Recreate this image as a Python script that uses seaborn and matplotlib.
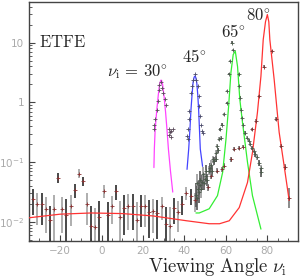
import numpy as np
import pandas as pd
import matplotlib
matplotlib.use("Agg")
import matplotlib.pyplot as plt
import seaborn as sns
from matplotlib.ticker import FixedLocator, FixedFormatter, MultipleLocator, NullFormatter

# ---- model curves: viewing angle (deg) and log10(intensity) ----
m30_x = [25.3, 25.5, 25.9, 26.7, 27.4, 28.0, 28.6, 29.0, 29.5, 30.2, 30.9, 31.6, 32.3, 33.3, 34.4]
m30_log = [-1.09, -0.78, -0.45, -0.12, 0.12, 0.30, 0.37, 0.37, 0.30, 0.10, -0.15, -0.45, -0.78, -1.15, -1.50]

m45_x = [41.3, 42.1, 42.7, 43.2, 43.7, 44.2, 44.7, 45.1, 45.5, 46.0, 46.5, 46.9, 47.3, 47.7, 48.8]
m45_log = [-1.12, -0.78, -0.45, -0.12, 0.12, 0.33, 0.42, 0.44, 0.42, 0.33, 0.12, -0.12, -0.45, -0.78, -1.07]

m65_x = [45.6, 47.2, 52.0, 56.0, 58.5, 60.1, 61.4, 62.5, 63.6, 64.6, 65.7, 66.8, 68.1, 70.5, 72.9, 77.0]
m65_log = [-1.85, -1.85, -1.78, -1.56, -1.17, -0.62, -0.06, 0.50, 0.80, 0.86, 0.60, 0.05, -0.34, -1.00, -1.56, -2.12]

m80_x = [-35, -20, -5, 10, 25, 41, 52, 57, 61.7, 66.5, 70.5, 72.9, 75.3, 77.0, 78.1, 79.2,
         80.1, 80.8, 81.3, 83.4, 85.8, 88.2, 90.3, 90.6]
m80_log = [-1.93, -1.87, -1.85, -1.86, -1.90, -1.98, -2.03, -2.03, -1.98, -1.76, -1.34, -0.84, -0.17, 0.44, 1.05, 1.35,
           1.47, 1.35, 1.05, 0.38, -0.50, -1.06, -1.56, -1.64]

# ---- measured points ----
# diffuse background (absolute errors)
bg_x = [-33, -31, -29, -27, -25, -23, -21, -19, -17, -15, -13, -11, -9, -7, -5, -3, -1, 1, 3, 5,
        7, 9, 11, 13, 15, 17, 19, 21, 23, 25, 27, 29, 31, 33, 35, 37, 39, 41, 43, 45]
bg_log = [-1.62, -1.70, -1.70, -1.78, -1.97, -1.78, -1.26, -1.78, -1.88, -1.73, -1.47, -1.19, -1.32, -1.70,
          -2.06, -2.08, -1.92, -1.48, -1.89, -1.74, -1.49, -1.92, -1.77, -1.74, -1.74, -1.96, -1.74, -1.74,
          -1.84, -1.81, -1.85, -1.73, -2.04, -2.06, -1.76, -1.83, -1.70, -1.51, -1.56, -1.64]
bg_err = [0.011, 0.011, 0.011, 0.010, 0.008, 0.012, 0.010, 0.010, 0.011, 0.010, 0.009, 0.011, 0.008, 0.011,
          0.010, 0.009, 0.010, 0.008, 0.009, 0.009, 0.009, 0.010, 0.011, 0.011, 0.011, 0.011, 0.010, 0.010,
          0.009, 0.009, 0.009, 0.008, 0.009, 0.009, 0.008, 0.008, 0.007, 0.008, 0.008, 0.008]

p30_x = [28.75, 27.95, 29.23, 27.63, 29.88, 30.84, 27.15, 31.16, 26.67, 26.02, 25.54, 25.38,
         32.45, 33.09, 33.73, 34.38, 32.77, 33.41]
p30_log = [0.34, 0.29, 0.245, 0.20, 0.15, 0.05, 0.02, -0.05, -0.12, -0.27, -0.37, -0.44,
           -0.45, -0.50, -0.48, -0.44, -0.55, -0.58]

p45_x = [44.97, 44.0, 45.6, 43.69, 46.42, 43.2, 46.9, 47.2, 42.4, 47.55, 42.1, 48.0, 41.6, 48.5, 41.3, 48.8, 41.6]
p45_log = [0.48, 0.38, 0.37, 0.28, 0.27, 0.16, 0.11, -0.06, -0.14, -0.23, -0.28, -0.37, -0.44, -0.48,
           -0.56, -0.52, -0.62]

p65_x = [45.5, 46.0, 46.3, 46.7, 47.0, 47.5, 47.8, 48.2, 48.6, 49.0, 49.5, 49.8, 50.3, 50.7, 51.0, 51.8,
         52.3, 53.0, 53.5, 54.0, 54.5, 55.1, 55.5, 55.9, 56.3, 56.7, 57.1, 57.6, 58.3, 59.1, 60.4, 60.7,
         61.4, 62.0, 63.1, 63.6, 66.2, 66.5, 66.8, 67.2, 67.7, 68.3, 69.5, 70.3, 71.1, 71.9, 72.7, 73.5,
         74.3, 75.1, 76.1, 76.9, 76.9]
p65_log = [-1.55, -1.35, -1.60, -1.45, -1.50, -1.39, -1.30, -1.45, -1.34, -1.20, -1.35, -1.28, -1.15, -1.23,
           -1.30, -1.14, -1.10, -1.05, -1.15, -0.95, -0.98, -0.84, -0.95, -0.73, -0.80, -0.61, -0.45, -0.60,
           -0.37, -0.20, -0.01, 0.19, 0.48, 0.69, 1.00, 0.88, 0.47, 0.27, 0.08, -0.12, -0.26, -0.37, -0.51,
           -0.59, -0.64, -0.70, -0.76, -0.81, -0.87, -0.92, -1.01, -1.09, -1.17]
p65_err = [0.20, 0.15, 0.20, 0.15, 0.18, 0.12, 0.15, 0.15, 0.12, 0.12, 0.12, 0.10, 0.10, 0.10,
           0.10, 0.08, 0.08, 0.08, 0.08, 0.06, 0.06, 0.05, 0.05, 0.04, 0.04, 0.03, 0.03, 0.03,
           0.02, 0.02, 0.02, 0.02, 0.02, 0.02, 0.02, 0.02, 0.02, 0.02, 0.02, 0.02, 0.02, 0.02, 0.03,
           0.03, 0.03, 0.03, 0.03, 0.03, 0.04, 0.04, 0.05, 0.05, 0.08]

p80_x = [51.3, 53.0, 55.9, 58.0, 59.1, 62.3, 64.1, 66.2, 68.1, 72.9, 74.6, 76.3, 78.4, 82.4, 84.4, 86.7, 88.5, 90.5]
p80_log = [-1.42, -1.23, -1.14, -1.12, -1.06, -0.95, -0.78, -0.76, -0.74, -0.45, -0.31, 0.10, 0.60, 0.86,
           -0.28, -0.73, -1.08, -1.60]
p80_err = [0.06, 0.05, 0.04, 0.04, 0.04, 0.04, 0.03, 0.03, 0.03, 0.03, 0.03, 0.02, 0.02, 0.02,
           0.03, 0.04, 0.05, 0.16]

curve_colors = ["#ff44ff", "#4444ff", "#33ee33", "#ff3333"]

sns.set_style("ticks")
plt.rcParams["mathtext.fontset"] = "cm"
plt.rcParams["axes.unicode_minus"] = True

fig = plt.figure(figsize=(3.0, 2.77), dpi=100)
ax = fig.add_axes([0.097, 0.130, 0.897, 0.863])


def log_errbar(ax, x, lg, e, colors, lw):
    y = 10 ** np.asarray(lg)
    lo = y - 10 ** (np.asarray(lg) - np.asarray(e))
    hi = 10 ** (np.asarray(lg) + np.asarray(e)) - y
    for i in range(len(x)):
        ax.errorbar(x[i], y[i], yerr=[[lo[i]], [hi[i]]], fmt="none",
                    ecolor=colors[i % len(colors)], elinewidth=lw, capsize=0, zorder=2)


# background with absolute errors, alternating dark / light bars
bg_y = 10 ** np.asarray(bg_log)
for i in range(len(bg_x)):
    c = "#3a3a3a" if i % 2 == 0 else "#a8a8a8"
    lo = min(bg_err[i], bg_y[i] * 0.999)
    ax.errorbar(bg_x[i], bg_y[i], yerr=[[lo], [bg_err[i]]], fmt="none",
                ecolor=c, elinewidth=1.3, capsize=0, zorder=2)

log_errbar(ax, p65_x, p65_log, p65_err, ["#555555", "#999999"], 1.2)
log_errbar(ax, p80_x, p80_log, p80_err, ["#777777"], 1.2)

# model curves
for cx, cl, col in zip([m30_x, m45_x, m65_x, m80_x], [m30_log, m45_log, m65_log, m80_log], curve_colors):
    df = pd.DataFrame({"angle": cx, "I": 10 ** np.asarray(cl)})
    sns.lineplot(data=df, x="angle", y="I", sort=False, color=col, linewidth=0.9, ax=ax, zorder=3)

# markers
pts = [(bg_x, bg_log, "#8a3030"), (p30_x, p30_log, "#5a4a5a"), (p45_x, p45_log, "#4a4a6a"),
       (p65_x, p65_log, "#4a5a4a"), (p80_x, p80_log, "#7a3030")]
for px, pl, col in pts:
    df = pd.DataFrame({"angle": px, "I": 10 ** np.asarray(pl)})
    sns.scatterplot(data=df, x="angle", y="I", marker="+", s=6, color=col, linewidth=0.6, ax=ax, zorder=4)

ax.set_yscale("log")
ax.set_xlim(-35, 95)
ax.set_ylim(0.0048, 48)

# ticks, ROOT like
ax.yaxis.set_major_locator(FixedLocator([0.01, 0.1, 1, 10]))
ax.yaxis.set_major_formatter(FixedFormatter([r"$10^{-2}$", r"$10^{-1}$", "1", "10"]))
ax.yaxis.set_minor_locator(FixedLocator([k * 10.0 ** e for e in range(-3, 2) for k in range(2, 10)]))
ax.yaxis.set_minor_formatter(NullFormatter())
ax.xaxis.set_major_locator(MultipleLocator(20))
ax.xaxis.set_minor_locator(MultipleLocator(5))
ax.tick_params(axis="both", which="both", direction="in", colors="#444444",
               labelcolor="#aaaaaa", labelsize=7.5)
ax.tick_params(which="major", length=4, width=0.8)
ax.tick_params(which="minor", length=2, width=0.6)
for lab in ax.get_yticklabels():
    lab.set_math_fontfamily("dejavusans")
for sp in ax.spines.values():
    sp.set_visible(True)
    sp.set_color("#444444")
    sp.set_linewidth(1.0)
ax.set_xlabel("")
ax.set_ylabel("")

ax.text(-30, 10.4, r"$\mathrm{ETFE}$", fontsize=12, ha="left", va="center")
ax.text(2.4, 2.8, r"$\nu_{\rm i}\, =\, 30^{\circ}$", fontsize=12, ha="left", va="baseline")
ax.text(39, 4.8, r"$45^{\circ}$", fontsize=12, ha="left", va="baseline")
ax.text(57.8, 12.6, r"$65^{\circ}$", fontsize=12, ha="left", va="baseline")
ax.text(69.9, 24, r"$80^{\circ}$", fontsize=12, ha="left", va="baseline")

fig.text(0.957, 0.018, r"$\mathrm{Viewing\ Angle}\ \nu_{\rm i}$", fontsize=13.5, ha="right", va="baseline")

fig.savefig("out.png", dpi=100)
